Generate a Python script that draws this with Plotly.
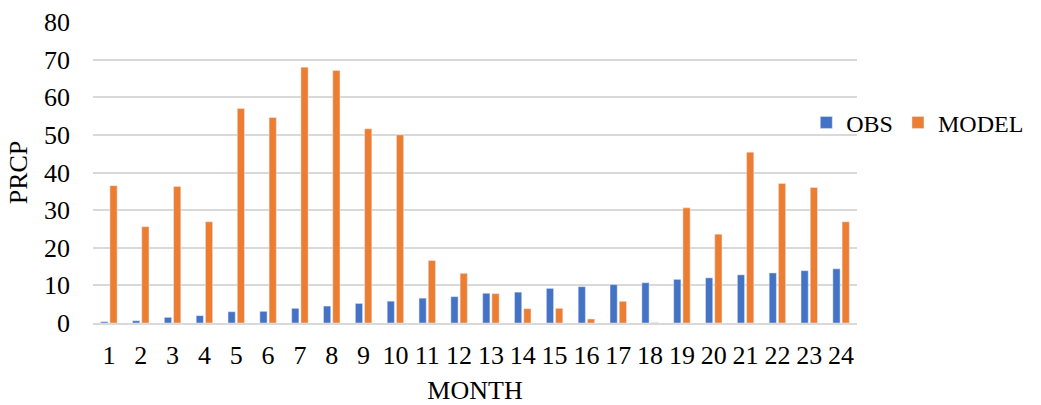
import plotly.graph_objects as go

months = [str(i) for i in range(1, 25)]
obs = [0.35, 0.6, 1.5, 1.95, 3.0, 3.1, 3.9, 4.5, 5.2, 5.8, 6.6, 7.0,
       7.9, 8.2, 9.2, 9.65, 10.2, 10.7, 11.6, 12.0, 12.8, 13.3, 13.9, 14.4]
model = [36.5, 25.6, 36.3, 26.9, 57.0, 54.6, 68.0, 67.1, 51.6, 50.0, 16.6, 13.2,
         7.8, 3.8, 3.9, 1.06, 5.76, 0.1, 30.6, 23.6, 45.4, 37.1, 36.0, 26.9]
y_ticks = [0, 10, 20, 30, 40, 50, 60, 70, 80]

fig = go.Figure()
fig.add_trace(go.Bar(x=months, y=obs, name="OBS", marker=dict(color="#4472C4")))
fig.add_trace(go.Bar(x=months, y=model, name="MODEL", marker=dict(color="#ED7D31")))

fig.update_layout(
    width=1041, height=405,
    margin=dict(l=93, r=175, t=22, b=82),
    paper_bgcolor="white", plot_bgcolor="white",
    font=dict(family="Liberation Serif", size=26, color="black"),
    barmode="group", bargap=0.42, bargroupgap=0.22,
    legend=dict(orientation="h", x=1.2255, xanchor="right", y=0.665, yanchor="middle",
                font=dict(size=24), itemwidth=30,
                bgcolor="rgba(0,0,0,0)"),
    xaxis=dict(title=dict(text="MONTH", standoff=12, font=dict(size=26)),
               showgrid=False, showline=True, automargin=False,
               linecolor="#D9D9D9", linewidth=1.5, ticks="", type="category",
               ticklabelstandoff=8, tickfont=dict(size=26)),
    yaxis=dict(title=dict(text="PRCP", standoff=8, font=dict(size=26)),
               range=[0, 80], tickvals=y_ticks, automargin=False,
               showgrid=True, gridcolor="#D9D9D9", gridwidth=1.5, zeroline=False,
               ticks="", showline=False, ticklabelstandoff=22, tickfont=dict(size=26)),
)
fig.write_html("out.html")
